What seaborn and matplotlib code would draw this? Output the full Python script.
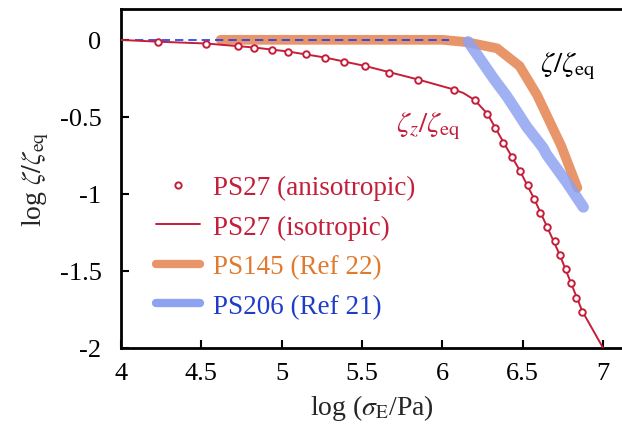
import numpy as np
import pandas as pd
import seaborn as sns
import matplotlib
matplotlib.use("Agg")
import matplotlib.pyplot as plt
from matplotlib.lines import Line2D

# ---- data ----
aniso_x = [4.23, 4.53, 4.73, 4.83, 4.94, 5.04, 5.15, 5.27, 5.39, 5.52, 5.67, 5.85,
           6.07, 6.20, 6.28, 6.33, 6.38, 6.43, 6.48, 6.53, 6.57, 6.61, 6.65, 6.70,
           6.73, 6.77, 6.80, 6.83, 6.87]
aniso_y = [-0.015, -0.026, -0.041, -0.052, -0.063, -0.078, -0.093, -0.117, -0.141,
           -0.171, -0.214, -0.26, -0.325, -0.39, -0.483, -0.571, -0.669, -0.758,
           -0.849, -0.94, -1.03, -1.123, -1.212, -1.307, -1.396, -1.487, -1.58,
           -1.673, -1.764]

iso_x = [3.98, 4.23, 4.53, 4.83, 5.04, 5.27, 5.52, 5.85, 6.07, 6.13, 6.20, 6.28,
         6.38, 6.48, 6.57, 6.65, 6.73, 6.80, 6.87, 7.0]
iso_y = [0.0, -0.012, -0.024, -0.05, -0.076, -0.115, -0.17, -0.258, -0.322, -0.345,
         -0.39, -0.48, -0.665, -0.845, -1.03, -1.21, -1.395, -1.578, -1.76, -2.0]

ref_dash_x = [4.09, 6.04]
ref_dash_y = [0.0, 0.0]

ps145_x = [4.62, 6.0, 6.15, 6.34, 6.48, 6.59, 6.74, 6.84]
ps145_y = [0.0, 0.0, -0.015, -0.055, -0.17, -0.36, -0.69, -0.96]

ps206_x = [6.16, 6.32, 6.40, 6.46, 6.525, 6.626, 6.649, 6.773, 6.877]
ps206_y = [-0.012, -0.253, -0.365, -0.46, -0.565, -0.70, -0.745, -0.924, -1.086]

legend_labels = ["PS27 (anisotropic)", "PS27 (isotropic)", "PS145 (Ref 22)", "PS206 (Ref 21)"]
xticks = [4, 4.5, 5, 5.5, 6, 6.5, 7]
xtick_labels = ["4", "4.5", "5", "5.5", "6", "6.5", "7"]
yticks = [0, -0.5, -1, -1.5, -2]
ytick_labels = ["0", "-0.5", "-1", "-1.5", "-2"]

# ---- style ----
sns.set_theme(style="ticks")
plt.rcParams["font.family"] = ["Liberation Serif", "DejaVu Serif"]
plt.rcParams["mathtext.fontset"] = "stix"
plt.rcParams["axes.unicode_minus"] = False

RED = "#c41e3a"
ORANGE = "#e8956a"
BLUE = "#8ea2f2"

W, H = 622, 435
fig = plt.figure(figsize=(W / 100, H / 100), dpi=100)
ax = fig.add_axes([121 / W, 1 - 349 / H, (W - 121) / W, (349 - 10) / H])

sns.lineplot(x=ps145_x, y=ps145_y, ax=ax, color=ORANGE, lw=7, sort=False,
             solid_joinstyle="miter", zorder=2)
sns.lineplot(x=ps206_x, y=ps206_y, ax=ax, color=BLUE, lw=8, alpha=0.85, sort=False,
             zorder=3)
sns.lineplot(x=ref_dash_x, y=ref_dash_y, ax=ax, color="#1a3cf0", lw=1.2,
             linestyle=(0, (5, 3)), zorder=4)
sns.lineplot(x=iso_x, y=iso_y, ax=ax, color=RED, lw=1.4, sort=False, zorder=5)
sns.scatterplot(x=aniso_x, y=aniso_y, ax=ax, marker="o", s=22, facecolor="white",
                edgecolor=RED, linewidth=1.4, zorder=6)

ax.set_xlim(4, 4 + (W - 121) / 160.7)
ax.set_ylim(-2, 0.2)
ax.set_xticks(xticks)
ax.set_xticklabels(xtick_labels)
ax.set_yticks(yticks)
ax.set_yticklabels(ytick_labels)
ax.tick_params(direction="in", length=6, width=1.5, labelsize=19, pad=10,
               colors="black")
ax.tick_params(axis="y", pad=14)
for s in ["left", "bottom", "top"]:
    ax.spines[s].set_linewidth(2)
    ax.spines[s].set_color("black")
ax.spines["right"].set_visible(False)

ax.set_xlabel(r"log ($\sigma_{\mathrm{E}}$/Pa)", fontsize=20, labelpad=6)
ax.set_ylabel(r"log $\zeta/\zeta_{\mathrm{eq}}$", fontsize=20, labelpad=6)

ax.text(6.61, -0.2, r"$\zeta/\zeta_{\mathrm{eq}}$", fontsize=21, color="black")
ax.text(5.71, -0.59, r"$\zeta_z/\zeta_{\mathrm{eq}}$", fontsize=21, color=RED)

handles = [
    Line2D([], [], marker="o", ls="none", markersize=4.5, markerfacecolor="white",
           markeredgecolor=RED, markeredgewidth=1.4),
    Line2D([], [], color=RED, lw=1.4),
    Line2D([], [], color=ORANGE, lw=6),
    Line2D([], [], color=BLUE, lw=6),
]
leg = ax.legend(handles, legend_labels, loc="center left",
                bbox_to_anchor=(145 / W, 1 - 248 / H), bbox_transform=fig.transFigure,
                frameon=False, fontsize=19.5, handlelength=1.63, handletextpad=0.48,
                labelspacing=0.53, borderaxespad=0, borderpad=0.4)
for t, c in zip(leg.get_texts(), [RED, RED, "#e07a2e", "#1f3cc8"]):
    t.set_color(c)

fig.savefig("out.png", dpi=100)
